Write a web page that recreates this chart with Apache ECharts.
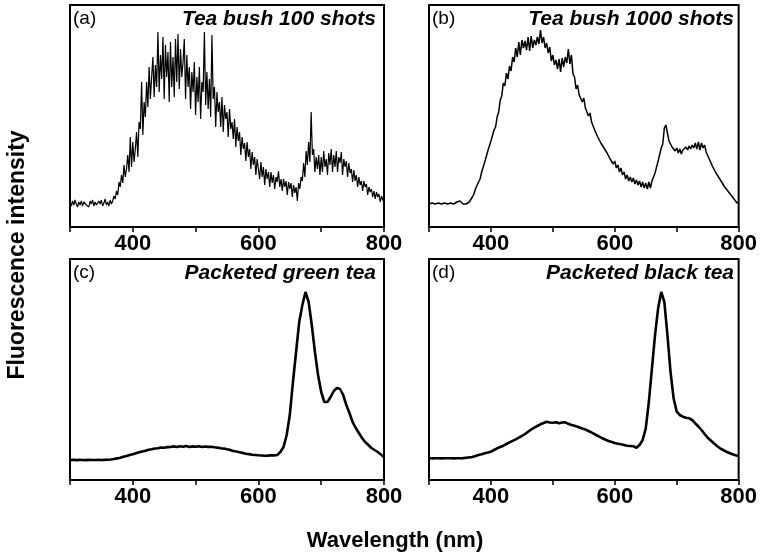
<!DOCTYPE html>
<html>
<head>
<meta charset="utf-8">
<script src="https://cdn.jsdelivr.net/npm/echarts@6/dist/echarts.min.js"></script>
<style>
html,body{margin:0;padding:0;background:#fff;}
#chart{width:760px;height:555px;}
</style>
</head>
<body>
<div id="chart"></div>
<script>
// Sampling grids (nm)
const startA = 300, stepA = 2;
const startB = 300, stepB = 2.5;
const startC = 300, stepC = 5;
const startD = 300, stepD = 5;

// (a) Tea bush 100 shots (arbitrary units)
const teaBush100 = [
  24,21,26,22,27,23,20,25,22,26,
  21,25,27,22,24,20,26,23,27,21,
  25,22,20,26,23,27,21,24,28,22,
  25,21,27,23,26,31,28,36,32,45,
  40,52,44,62,50,58,72,55,90,60,
  85,65,78,95,70,105,98,145,92,125,
  110,145,120,160,128,150,170,130,162,140,
  195,135,172,148,190,128,182,150,175,125,
  185,140,170,130,188,145,193,138,178,150,
  165,188,128,172,140,160,118,155,135,165,
  112,150,125,160,108,145,135,195,122,155,
  118,148,110,192,128,140,100,135,115,125,
  100,130,95,122,108,115,90,118,98,105,
  88,108,80,100,86,95,72,90,78,84,
  66,85,70,78,58,75,62,70,52,68,
  58,48,65,50,60,42,58,48,55,40,
  55,44,52,38,50,45,56,40,48,36,
  48,40,46,32,45,38,44,30,42,34,
  40,26,44,38,50,46,64,50,76,62,
  85,65,115,72,78,55,70,58,72,52,
  70,55,76,60,68,52,74,62,78,55,
  72,60,76,55,70,64,75,52,68,60,
  66,50,64,54,58,45,57,46,52,40,
  50,42,46,36,46,40,43,32,40,35,
  38,30,36,28,35,30,33,25,31,27,
  26
];

// (b) Tea bush 1000 shots
const teaBush1000 = [
  23,21,24,22,23,21,24,22,
  23,22,24,22,23,21,24,22,
  23,22,25,27,26,24,23,21,
  23,22,25,26,30,33,38,40,
  45,48,55,57,65,67,76,78,
  86,88,97,100,110,115,127,131,
  144,141,154,148,161,156,170,165,
  179,170,185,172,187,179,186,177,
  190,176,191,179,187,182,190,183,
  197,184,190,179,184,174,180,166,
  172,162,167,158,168,155,169,160,
  170,164,178,163,172,153,150,138,
  142,132,133,125,129,119,120,111,
  114,105,106,97,99,90,91,84,
  86,79,81,74,76,68,70,63,
  66,59,62,55,59,52,55,48,
  52,46,50,45,49,43,47,42,
  46,40,45,39,44,38,45,39,
  46,44,54,55,66,68,79,83,
  99,102,94,86,87,80,82,76,
  79,74,78,73,77,75,80,77,
  81,78,82,79,84,78,85,77,
  84,79,82,75,77,68,68,61,
  62,55,56,50,52,45,46,40,
  42,36,38,32,34,28,30,24,
  25
];

// (c) Packeted green tea
const greenTea = [
  20,20.2,19.9,20.1,20,19.9,20.1,20,20,20.1,
  20,20.1,20.2,20.5,21,21.6,22.3,23.2,24,25,
  25.7,26.8,27.7,28.6,29.3,30.3,30.7,31.5,31.7,32.4,
  32.3,32.9,33,33.6,33,33.7,33.2,33.9,33,33.6,
  33.2,33.8,33,33.5,33.1,33.3,32.8,32.4,31.7,31.4,
  30.7,30.1,29,28.5,27.7,27.1,26.3,25.9,25.3,25,
  24.7,24.5,24.3,24.4,24.7,24.6,25,28,33,45,
  65,98,128,158,175,188,178,155,128,105,
  88,78,78,83,89,92,91,85,75,67,
  58,52,47,42,38,35,32,30,28,25.5,
  23
];

// (d) Packeted black tea
const blackTea = [
  21.7,21.6,21.8,21.7,21.6,21.8,21.7,21.7,21.6,21.8,
  21.7,21.9,22.3,22.6,23,24,25,25.8,26.7,27.5,
  28.3,30,31.7,33,34.3,36,37.7,39.2,40.7,42.3,
  44,46,48.3,50.5,52.3,54,55.7,57,58.3,57.5,
  57.3,57.8,56.7,57.5,57.7,56.2,55,54.2,53.3,52,
  51,49.7,48.3,46.7,45,43.3,41.7,40.3,39,38,
  37,36.3,35.7,35,34.3,34,33.7,32.3,35,40,
  51.7,78,111.7,145,171.7,188,178,145,108,81.7,
  68.3,65,63.3,62.3,61.7,60,56.7,53.5,50,46,
  42.3,39.5,36.7,34,31.7,30,28.3,27,25.7,24.8,
  24
];

const xTicksShown = [400, 600, 800];
const panelTags = ['(a)', '(b)', '(c)', '(d)'];
const panelNames = ['Tea bush 100 shots', 'Tea bush 1000 shots', 'Packeted green tea', 'Packeted black tea'];
const xAxisName = 'Wavelength (nm)';
const yAxisName = 'Fluorescence intensity';

function pairs(start, step, vals) {
  return vals.map((v, i) => [start + i * step, v]);
}

const FONT = "'Liberation Sans', Arial, sans-serif";
const grids = [
  {left: 70, top: 5, width: 314, height: 222},
  {left: 429, top: 5, width: 313, height: 222},
  {left: 70, top: 259, width: 314, height: 221},
  {left: 429, top: 259, width: 313, height: 221}
];

const seriesData = [
  pairs(startA, stepA, teaBush100),
  pairs(startB, stepB, teaBush1000),
  pairs(startC, stepC, greenTea),
  pairs(startD, stepD, blackTea)
];
const lineWidths = [1.2, 1.5, 2.6, 2.6];

const option = {
  animation: false,
  backgroundColor: '#fff',
  grid: grids.map(g => Object.assign({show: true, borderColor: '#000', borderWidth: 2, backgroundColor: 'transparent'}, g)),
  xAxis: grids.map((g, i) => ({
    type: 'value', gridIndex: i, min: 300, max: 800, interval: 100,
    axisLine: {show: true, lineStyle: {color: '#000', width: 2}},
    axisTick: {show: true, inside: false, length: 5, lineStyle: {color: '#000', width: 1.5}},
    splitLine: {show: false},
    axisLabel: {
      show: true, margin: 6, color: '#000', fontFamily: FONT, fontWeight: 'bold', fontSize: 22,
      formatter: v => xTicksShown.indexOf(v) >= 0 ? String(v) : ''
    }
  })),
  yAxis: grids.map((g, i) => ({
    type: 'value', gridIndex: i, min: 0, max: g.height,
    show: false, splitLine: {show: false}
  })),
  series: seriesData.map((d, i) => ({
    type: 'line', xAxisIndex: i, yAxisIndex: i, data: d,
    showSymbol: false, symbol: 'none', smooth: false,
    lineStyle: {color: '#000', width: lineWidths[i]},
    clip: true
  })),
  graphic: [].concat(
    grids.map((g, i) => ({
      type: 'text', left: g.left + 3, top: g.top + 4,
      style: {text: panelTags[i], fill: '#000', font: '19px ' + FONT}
    })),
    grids.map((g, i) => ({
      type: 'text', right: 760 - (g.left + g.width) + 8, top: g.top + 4,
      style: {text: panelNames[i], fill: '#000', font: 'italic bold 21px ' + FONT}
    })),
    [{
      type: 'text', x: 395, y: 541,
      style: {text: xAxisName, fill: '#000', font: 'bold 22px ' + FONT, align: 'center', verticalAlign: 'middle'}
    }, {
      type: 'text', rotation: Math.PI / 2, x: 18, y: 255,
      style: {text: yAxisName, fill: '#000', font: 'bold 23px ' + FONT, align: 'center', verticalAlign: 'middle'}
    }]
  )
};

const chart = echarts.init(document.getElementById('chart'), null, {renderer: 'canvas'});
chart.setOption(option);
</script>
</body>
</html>
